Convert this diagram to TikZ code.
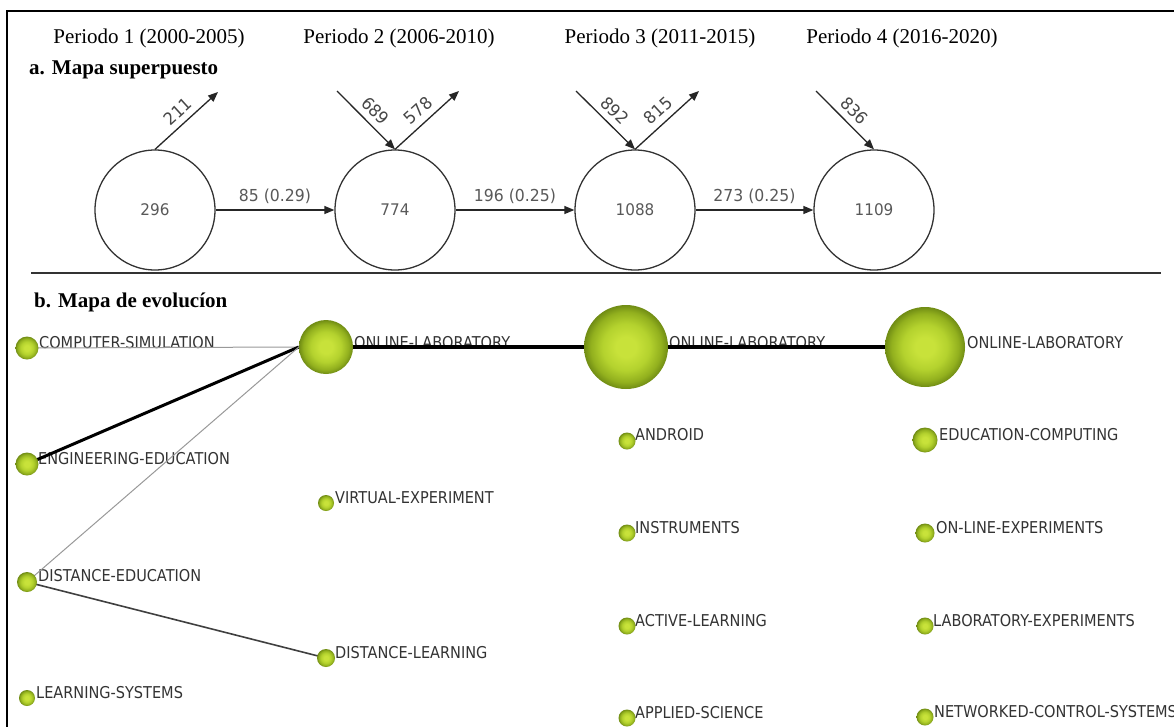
\documentclass[tikz,border=0pt]{standalone}
\usepackage{fontspec}
\setmainfont{Liberation Serif}
\newfontfamily\lblfont[FakeStretch=0.89]{DejaVu Sans}
\newfontfamily\numfont[FakeStretch=0.95]{DejaVu Sans}
\usetikzlibrary{arrows.meta}
\definecolor{gcen}{RGB}{200,226,58}
\definecolor{gmid}{RGB}{180,210,46}
\definecolor{gdark}{RGB}{146,176,30}
\definecolor{gedge}{RGB}{112,140,20}
\pgfdeclareradialshading{greenball}{\pgfpoint{0bp}{0bp}}{color(0bp)=(gcen); color(6bp)=(gcen); color(14bp)=(gmid); color(21bp)=(gdark); color(25bp)=(gedge); color(50bp)=(gedge)}
\pgfdeclarelayer{bglayer}
\pgfdeclarelayer{textlayer}
\pgfdeclarelayer{edgelayer}
\pgfsetlayers{bglayer,textlayer,edgelayer,main}
\begin{document}
\begin{tikzpicture}[x=1pt,y=-1pt,
  per/.style={font=\fontsize{21}{24}\selectfont, anchor=base, inner sep=0pt},
  hdr/.style={font=\bfseries\fontsize{21}{24}\selectfont, anchor=base west, inner sep=0pt},
  bubble/.style={circle, draw=black!80, line width=1.3pt, minimum size=120pt, inner sep=0pt,
    font=\numfont\fontsize{16}{18}\selectfont, text=black!65},
  flow/.style={draw=black!85, line width=1.3pt, -{Triangle[length=10pt,width=8pt]}},
  flab/.style={font=\numfont\fontsize{16.5}{18}\selectfont, text=black!65, inner sep=1pt},
  dlab/.style={font=\numfont\fontsize{17}{19}\selectfont, text=black!72, inner sep=1pt, sloped, above=5pt},
  ball/.style={circle, inner sep=0pt, shading=greenball, minimum size=#1},
  klab/.style={font=\lblfont\fontsize{16.3}{18}\selectfont, text=black!80, anchor=west, inner sep=0pt},
  weak/.style={draw=black!40, line width=1pt},
  mid/.style={draw=black!75, line width=1.6pt},
  strong/.style={draw=black, line width=3pt},
  heavy/.style={draw=black, line width=4.5pt},
]
\useasboundingbox (0,0) rectangle (1174,726);
\begin{pgfonlayer}{bglayer}
\fill[white] (0,0) rectangle (1174,726);
\draw[line width=2pt] (7,730) -- (7,11) -- (1180,11);
\end{pgfonlayer}

% ---------- a. Mapa superpuesto ----------
\node[per] (p1) at (149,43) {Periodo 1 (2000-2005)};
\node[per] (p2) at (399,43) {Periodo 2 (2006-2010)};
\node[per] (p3) at (660,43) {Periodo 3 (2011-2015)};
\node[per] (p4) at (902,43) {Periodo 4 (2016-2020)};
\node[hdr] (ha) at (29,74) {a. Mapa superpuesto};

\node[bubble] (c1) at (155,210) {296};
\node[bubble] (c2) at (395,210) {774};
\node[bubble] (c3) at (635,210) {1088};
\node[bubble] (c4) at (874,210) {1109};

\coordinate (o1) at (218,92);
\coordinate (i2) at (337,91);
\coordinate (o2) at (459,91);
\coordinate (i3) at (576,91);
\coordinate (o3) at (699,91);
\coordinate (i4) at (816,91);

\draw[flow] (c1.north) -- node[dlab] {211} (o1);
\draw[flow] (i2) -- node[dlab] {689} (c2.north);
\draw[flow] (c2.north) -- node[dlab] {578} (o2);
\draw[flow] (i3) -- node[dlab] {892} (c3.north);
\draw[flow] (c3.north) -- node[dlab] {815} (o3);
\draw[flow] (i4) -- node[dlab] {836} (c4.north);

\draw[flow] (c1.east) -- node[flab, above=5pt] {85 (0.29)} (c2.west);
\draw[flow] (c2.east) -- node[flab, above=5pt] {196 (0.25)} (c3.west);
\draw[flow] (c3.east) -- node[flab, above=5pt] {273 (0.25)} (c4.west);

\coordinate (sepL) at (31,273);
\coordinate (sepR) at (1161,273);
\draw[line width=1.5pt, black!80] (sepL) -- (sepR);

% ---------- b. Mapa de evolucion ----------
\node[hdr] (hb) at (34,307) {b. Mapa de evolucíon};

% balls
\node[ball=23pt] (cs) at (27,348) {};
\node[ball=23pt] (ee) at (27,464) {};
\node[ball=20pt] (de) at (27,582) {};
\node[ball=16pt] (ls) at (27,698) {};

\node[ball=54pt] (ol2) at (326,347) {};
\node[ball=16pt] (ve) at (326,503) {};
\node[ball=18pt] (dl) at (326,658) {};

\node[ball=84pt] (ol3) at (626,347) {};
\node[ball=17pt] (an) at (627,441) {};
\node[ball=17pt] (ins) at (627,533) {};
\node[ball=17pt] (al) at (627,626) {};
\node[ball=17pt] (as) at (627,718) {};

\node[ball=80pt] (ol4) at (925,347) {};
\node[ball=25pt] (ec) at (925,440) {};
\node[ball=19pt] (ole) at (925,533) {};
\node[ball=17pt] (le) at (925,626) {};
\node[ball=17pt] (nc) at (925,717) {};

% labels
\begin{pgfonlayer}{textlayer}
\node[klab] (lcs) at (39,343) {COMPUTER-SIMULATION};
\node[klab] (lee) at (38,459) {ENGINEERING-EDUCATION};
\node[klab] (lde) at (38,576) {DISTANCE-EDUCATION};
\node[klab] (lls) at (36,693) {LEARNING-SYSTEMS};
\node[klab] (lol2) at (354,343) {ONLINE-LABORATORY};
\node[klab] (lve) at (335,498) {VIRTUAL-EXPERIMENT};
\node[klab] (ldl) at (335,653) {DISTANCE-LEARNING};
\node[klab] (lol3) at (669,343) {ONLINE-LABORATORY};
\node[klab] (lan) at (635,435) {ANDROID};
\node[klab] (lins) at (635,528) {INSTRUMENTS};
\node[klab] (lal) at (635,621) {ACTIVE-LEARNING};
\node[klab] (las) at (635,713) {APPLIED-SCIENCE};
\node[klab] (lol4) at (967,343) {ONLINE-LABORATORY};
\node[klab] (lec) at (939,435) {EDUCATION-COMPUTING};
\node[klab] (lole) at (936,528) {ON-LINE-EXPERIMENTS};
\node[klab] (lle) at (933,621) {LABORATORY-EXPERIMENTS};
\node[klab] (lnc) at (934,712) {NETWORKED-CONTROL-SYSTEMS};
\end{pgfonlayer}

% edges
\begin{pgfonlayer}{edgelayer}
\draw[weak] (cs.center) -- (ol2.west);
\draw[strong] (ee.center) -- (ol2.west);
\draw[weak] (de.center) -- (ol2.west);
\draw[mid] (de.center) -- (dl.center);
\draw[heavy] (ol2.center) -- (ol3.center);
\draw[heavy] (ol3.center) -- (ol4.center);
\end{pgfonlayer}
\end{tikzpicture}
\end{document}
